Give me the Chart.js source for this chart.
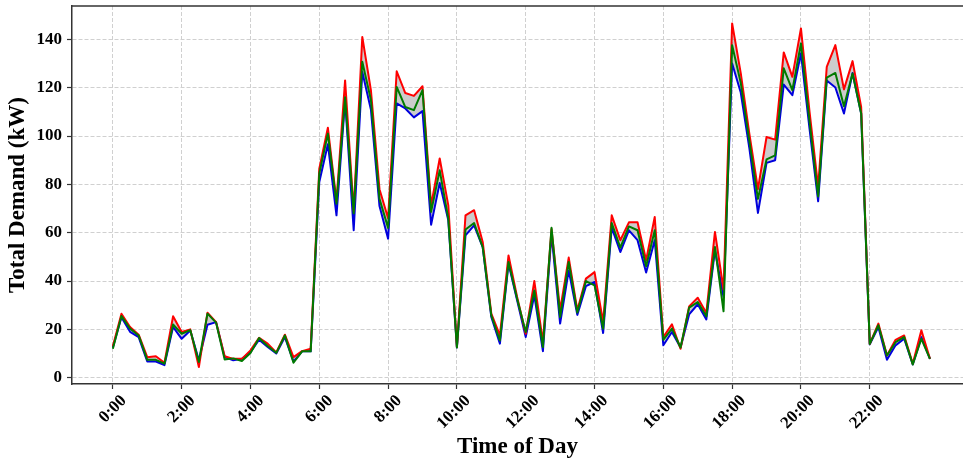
<!DOCTYPE html>
<html>
<head>
<meta charset="utf-8">
<script src="https://cdn.jsdelivr.net/npm/chart.js@4.4.1/dist/chart.umd.min.js"></script>
<style>
  html, body { margin: 0; padding: 0; background: #fff; overflow: hidden; }
  #demandChart { display: block; }
</style>
</head>
<body>
<canvas id="demandChart" width="963" height="462"></canvas>
<script>
// 15-minute demand readings, 0:00 .. 23:45
const upperDemand = [
    13, 26.5, 21, 17.8, 8.5, 8.9, 6.2, 25.4, 18.9, 20, 4.4, 26.9,
    23, 8.9, 7.8, 7.8, 11.3, 16.5, 14.1, 10.5, 17.8, 8.5, 11, 12,
    86.5, 103.4, 73, 123, 69, 141, 119, 78, 66, 126.8, 117.8, 116.6,
    120.6, 71.3, 90.7, 71.3, 12.7, 67.2, 69.3, 56.2, 26.5, 17.5, 50.6, 33.4,
    18.2, 40, 14.7, 61.5, 27.9, 49.7, 27.9, 41, 43.7, 23, 67.2, 56.9,
    64.3, 64.3, 48.6, 66.5, 16.8, 22.1, 12, 29.5, 33.1, 26.8, 60.3, 36.5,
    146.6, 126, 101, 78, 99.6, 98.5, 134.6, 124.5, 144.5, 110, 79, 128.6,
    137.6, 119.3, 131, 112, 14, 22.4, 9.2, 15.7, 17.5, 5.8, 19.6, 7.8
];
const midDemand = [
    12, 25.5, 20.3, 17.5, 7.4, 7.4, 5.8, 22, 18.2, 19.7, 6.5, 26.5,
    22.8, 7.5, 8, 6.9, 10.2, 16.4, 13.1, 10.3, 17.5, 6.2, 10.9, 10.9,
    84.5, 101, 72, 116, 68, 130.7, 115, 74, 62, 120.3, 112, 110.7,
    119, 68.6, 85.8, 65.8, 12.5, 61.3, 64, 54, 25.8, 15.4, 47.9, 32.7,
    18.9, 36.1, 12.7, 62, 25.1, 47.9, 27, 40, 38.2, 20.3, 64, 53.8,
    62.6, 61, 46.1, 61, 15.7, 20.3, 12.5, 29, 31.3, 25.4, 54.1, 27.5,
    137.6, 122, 98, 74, 90.3, 92, 128, 119, 138.3, 106, 75, 124.2,
    126.1, 112.3, 125.9, 109.3, 14, 21.7, 9.2, 14.7, 16.8, 5.5, 16.1, 7.8
];
const lowerDemand = [
    12.5, 25, 19, 16.8, 6.7, 6.7, 5.2, 21, 16.1, 19.5, 7.2, 21.9,
    23, 8.5, 7.2, 7.8, 10.6, 15.7, 12.7, 10, 16.8, 6.7, 10.9, 10.9,
    81, 96.6, 67.2, 114.8, 61, 126.5, 111, 71, 57.5, 113.5, 111.4, 107.7,
    110.3, 63.3, 80.6, 65.1, 12.5, 58.9, 63, 54, 25.1, 14.1, 47.2, 32,
    16.8, 34.1, 11, 59.5, 22.4, 44.4, 26, 37.9, 39.6, 18.5, 62.1, 52,
    61, 56.9, 43.5, 56.9, 13.4, 18.9, 12.5, 26.2, 30.4, 24.1, 52.7, 33.4,
    130, 118, 95, 68.2, 88.9, 90, 121.3, 116.9, 134.2, 103, 73, 123,
    120.1, 109.3, 126.1, 109.3, 13.8, 21, 7.4, 13.4, 16.1, 5.5, 16.8, 7.8
];
const hourTicks = [0, 2, 4, 6, 8, 10, 12, 14, 16, 18, 20, 22];
const demandTicks = [0, 20, 40, 60, 80, 100, 120, 140];

const toPoints = arr => arr.map((v, i) => ({x: i * 0.25, y: v}));
const serif = "'Liberation Serif', 'Times New Roman', serif";

// top frame line (matplotlib box)
const frameTop = {
    id: 'frameTop',
    afterDraw(chart) {
        const {ctx, chartArea} = chart;
        ctx.save();
        ctx.strokeStyle = '#333';
        ctx.lineWidth = 1.5;
        ctx.beginPath();
        ctx.moveTo(chartArea.left, chartArea.top);
        ctx.lineTo(chartArea.right + 2, chartArea.top);
        ctx.stroke();
        ctx.restore();
    }
};

const whiteBg = {
    id: 'whiteBg',
    beforeDraw(chart) {
        const {ctx, width, height} = chart;
        ctx.save();
        ctx.fillStyle = '#fff';
        ctx.fillRect(0, 0, width, height);
        ctx.restore();
    }
};

new Chart(document.getElementById('demandChart'), {
    type: 'line',
    data: {
        datasets: [{
            data: toPoints(upperDemand),
            borderColor: '#ff0000',
            borderWidth: 2,
            borderJoinStyle: 'round',
            pointRadius: 0,
            fill: {target: 2, above: 'rgba(128,128,128,0.4)', below: 'rgba(128,128,128,0.4)'},
            order: 1
        }, {
            data: toPoints(midDemand),
            borderColor: '#007a00',
            borderWidth: 2,
            borderJoinStyle: 'round',
            pointRadius: 0,
            fill: false,
            order: 0
        }, {
            data: toPoints(lowerDemand),
            borderColor: '#0000dd',
            borderWidth: 2,
            borderJoinStyle: 'round',
            pointRadius: 0,
            fill: false,
            order: 2
        }]
    },
    options: {
        responsive: false,
        animation: false,
        layout: {padding: {top: 6, left: 0, right: 0, bottom: 0}},
        plugins: {
            legend: {display: false},
            tooltip: {enabled: false},
            filler: {drawTime: 'beforeDatasetsDraw'}
        },
        scales: {
            x: {
                type: 'linear',
                min: -1.1875,
                max: 24.71,
                afterBuildTicks: s => { s.ticks = hourTicks.map(v => ({value: v})); },
                afterFit: s => { s.height = 78; s.paddingLeft = 0; s.paddingRight = 0; },
                ticks: {
                    autoSkip: false,
                    maxRotation: 45,
                    minRotation: 45,
                    labelOffset: 11,
                    padding: 2,
                    color: '#000',
                    font: {family: serif, size: 17, weight: 'bold'},
                    callback: v => v + ':00'
                },
                grid: {
                    color: '#d0d0d0',
                    lineWidth: 1,
                    tickLength: 5,
                    tickColor: '#333',
                    tickWidth: 1.2,
                    tickBorderDash: []
                },
                border: {color: '#333', width: 1.5, dash: [4, 2]},
                title: {
                    display: true,
                    text: 'Time of Day',
                    color: '#000',
                    font: {family: serif, size: 23, weight: 'bold'},
                    padding: {top: 0, bottom: 1}
                }
            },
            y: {
                min: -2.6,
                max: 153.8,
                afterBuildTicks: s => { s.ticks = demandTicks.map(v => ({value: v})); },
                afterFit: s => { s.width = 72; s.paddingTop = 0; s.paddingBottom = 0; },
                ticks: {
                    padding: 5,
                    color: '#000',
                    font: {family: serif, size: 17, weight: 'bold'}
                },
                grid: {
                    color: '#d0d0d0',
                    lineWidth: 1,
                    tickLength: 5,
                    tickColor: '#333',
                    tickWidth: 1.2,
                    tickBorderDash: []
                },
                border: {color: '#333', width: 1.5, dash: [4, 2]},
                title: {
                    display: true,
                    text: 'Total Demand (kW)',
                    color: '#000',
                    font: {family: serif, size: 23, weight: 'bold'},
                    padding: {top: 4, bottom: 0}
                }
            }
        }
    },
    plugins: [whiteBg, frameTop]
});
</script>
</body>
</html>
